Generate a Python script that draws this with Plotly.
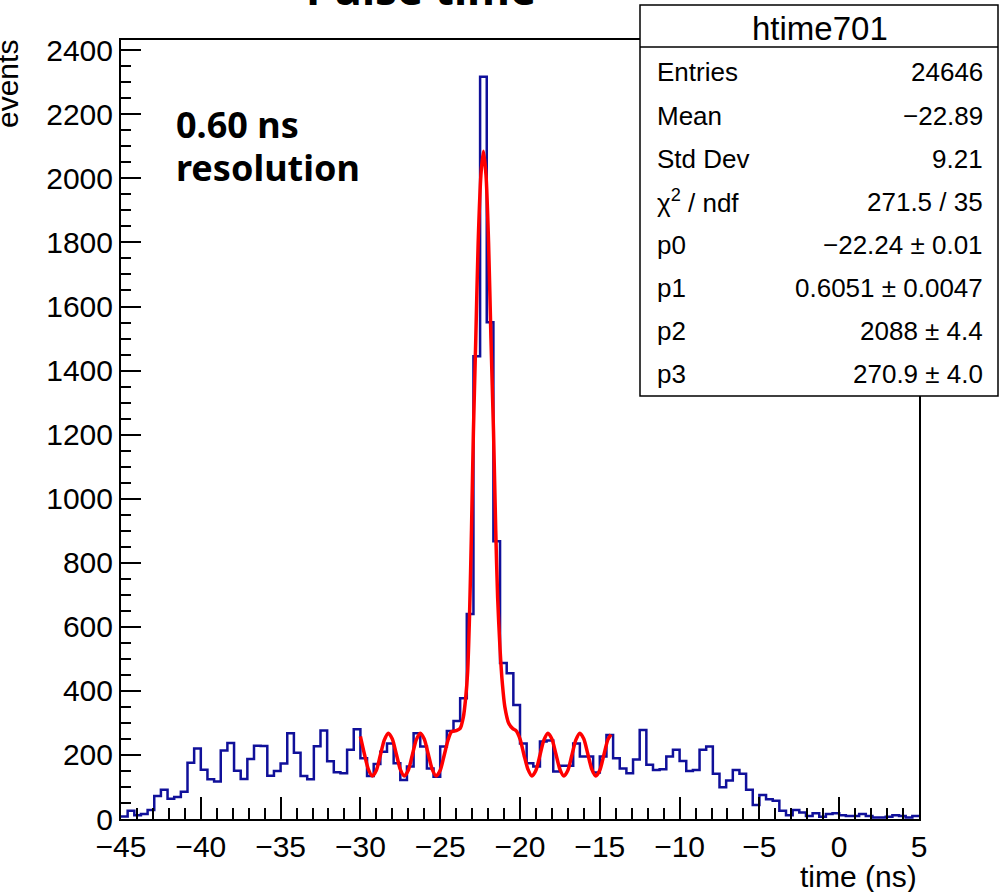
import numpy as np
import plotly.graph_objects as go

# ---------------- data ----------------
hist_xmin = -45.0
hist_xmax = 5.0
counts = [
    8, 26, 12, 16, 28, 72, 91, 63, 69, 85,
    176, 220, 154, 124, 117, 214, 237, 151, 125, 187,
    229, 228, 135, 150, 173, 268, 207, 134, 124, 227,
    276, 180, 146, 143, 216, 280, 190, 134, 172, 210,
    236, 174, 122, 164, 268, 226, 158, 132, 226, 275,
    306, 377, 640, 1445, 2317, 1551, 867, 487, 455, 356,
    236, 174, 164, 242, 245, 148, 166, 166, 236, 195,
    195, 145, 195, 262, 190, 158, 143, 186, 278, 169,
    153, 155, 195, 216, 181, 150, 153, 216, 226, 141,
    99, 120, 153, 141, 91, 44, 75, 62, 57, 26,
    12, 28, 20, 9, 18, 7, 16, 18, 12, 9,
    9, 16, 9, 5, 5, 7, 12, 9, 5, 9,
]

fit_x = [-30.0, -29.75, -29.5, -29.25, -29.0, -28.75, -28.5, -28.25, -28.0, -27.75,
         -27.5, -27.25, -27.0, -26.75, -26.5, -26.25, -26.0, -25.75, -25.5, -25.25,
         -25.0, -24.75, -24.5, -24.3, -24.0, -23.75, -23.55, -23.4, -23.28, -23.16,
         -23.04, -22.92, -22.77, -22.62, -22.45, -22.29, -22.13, -21.97, -21.82, -21.66,
         -21.52, -21.4, -21.25, -21.1, -20.95, -20.7, -20.45, -20.25, -20.0, -19.75,
         -19.5, -19.25, -19.0, -18.75, -18.5, -18.25, -18.0, -17.75, -17.5, -17.25,
         -17.0, -16.75, -16.5, -16.25, -16.0, -15.75, -15.5, -15.25, -15.0, -14.75,
         -14.5, -14.3]
fit_y = [258, 203, 155, 134, 152, 199, 247, 268, 250, 203,
         155, 134, 152, 199, 247, 268, 250, 203, 155, 134,
         152, 199, 248, 272, 276, 283, 318, 380, 460, 640,
         900, 1210, 1500, 1800, 2010, 2085, 2010, 1800, 1500, 1210,
         900, 690, 530, 420, 350, 298, 282, 276, 250, 200,
         155, 134, 152, 199, 247, 268, 250, 203, 155, 134,
         152, 199, 247, 268, 250, 203, 155, 134, 152, 199,
         247, 264]

y_ticks = [0, 200, 400, 600, 800, 1000, 1200, 1400, 1600, 1800, 2000, 2200, 2400]
x_ticks = [-45, -40, -35, -30, -25, -20, -15, -10, -5, 0, 5]

stat_title = "htime701"
stat_labels = ["Entries", "Mean", "Std Dev", "χ<sup>2</sup> / ndf", "p0", "p1", "p2", "p3"]
stat_values = ["24646", "−22.89", "9.21", "271.5 / 35", "−22.24 ± 0.01",
               "0.6051 ± 0.0047", "2088 ± 4.4", "270.9 ± 4.0"]

# ---------------- layout geometry (pixels) ----------------
W, H = 1001, 892
L, R, T, B = 121, 919, 40, 819


def px(xp):
    return (xp - L) / (R - L)


def py(yp):
    return (B - yp) / (B - T)


edges = np.linspace(hist_xmin, hist_xmax, len(counts) + 1)
step_x = list(edges)
step_y = list(counts) + [counts[-1]]

fig = go.Figure()
fig.add_trace(go.Scatter(x=step_x, y=step_y, mode="lines",
                         line=dict(color="#10109a", width=2.5, shape="hv"),
                         hoverinfo="skip", showlegend=False))
fig.add_trace(go.Scatter(x=fit_x, y=fit_y, mode="lines",
                         line=dict(color="#ff0000", width=3.5, shape="spline", smoothing=0.7),
                         hoverinfo="skip", showlegend=False))

tickfont = dict(family="Liberation Sans, Arial, sans-serif", size=30, color="black")
fig.update_xaxes(range=[hist_xmin, hist_xmax], tickvals=x_ticks,
                 ticktext=[("−" + str(-v)) if v < 0 else str(v) for v in x_ticks],
                 showline=True, linecolor="black", linewidth=2, mirror=True,
                 ticks="inside", ticklen=22, tickwidth=1.6, tickcolor="black",
                 minor=dict(ticks="inside", ticklen=11, dtick=1, tickwidth=1.6, tickcolor="black"),
                 showgrid=False, zeroline=False, tickfont=tickfont)
fig.update_yaxes(range=[0, 2432], tickvals=y_ticks,
                 showline=True, linecolor="black", linewidth=2, mirror=True,
                 ticks="inside", ticklen=20, tickwidth=1.6, tickcolor="black",
                 minor=dict(ticks="inside", ticklen=10, dtick=50, tickwidth=1.6, tickcolor="black"),
                 showgrid=False, zeroline=False, tickfont=tickfont)

shapes = [
    dict(type="rect", xref="paper", yref="paper", x0=px(640), x1=px(998), y0=py(396), y1=py(5),
         fillcolor="white", line=dict(color="black", width=1.5), layer="above"),
    dict(type="line", xref="paper", yref="paper", x0=px(640), x1=px(998), y0=py(47), y1=py(47),
         line=dict(color="black", width=1.5), layer="above"),
]

annos = []
sfont = dict(family="Liberation Sans, Arial, sans-serif", size=26, color="black")
annos.append(dict(text=stat_title, xref="paper", yref="paper", x=px(820), y=py(29),
                  xanchor="center", yanchor="middle", showarrow=False,
                  font=dict(family="Liberation Sans, Arial, sans-serif", size=33, color="black")))
row_y = [72, 116, 159, 202, 245, 288, 331, 374]
for lab, val, ry in zip(stat_labels, stat_values, row_y):
    annos.append(dict(text=lab, xref="paper", yref="paper", x=px(655), y=py(ry),
                      xanchor="left", yanchor="middle", showarrow=False, font=sfont))
    annos.append(dict(text=val, xref="paper", yref="paper", x=px(985), y=py(ry),
                      xanchor="right", yanchor="middle", showarrow=False, font=sfont))

bold = dict(family="Noto Sans, Open Sans, sans-serif", size=36, color="black")
annos.append(dict(text="<b>0.60 ns</b>", xref="paper", yref="paper", x=px(174), y=py(124),
                  xanchor="left", yanchor="middle", showarrow=False, font=bold))
annos.append(dict(text="<b>resolution</b>", xref="paper", yref="paper", x=px(174), y=py(167),
                  xanchor="left", yanchor="middle", showarrow=False, font=bold))
annos.append(dict(text="<b>Pulse time</b>", xref="paper", yref="paper", x=px(421), y=py(-12),
                  xanchor="center", yanchor="middle", showarrow=False,
                  font=dict(family="Noto Sans, Open Sans, sans-serif", size=44, color="black")))
annos.append(dict(text="time (ns)", xref="paper", yref="paper", x=px(919), y=py(876),
                  xanchor="right", yanchor="middle", showarrow=False,
                  font=dict(family="Liberation Sans, Arial, sans-serif", size=30, color="black")))
annos.append(dict(text="events", xref="paper", yref="paper", x=px(8), y=py(84),
                  xanchor="center", yanchor="middle", showarrow=False, textangle=-90,
                  font=dict(family="Liberation Sans, Arial, sans-serif", size=30, color="black")))

fig.update_layout(width=W, height=H, margin=dict(l=L, r=W - R, t=T, b=H - B, pad=0),
                  plot_bgcolor="white", paper_bgcolor="white",
                  shapes=shapes, annotations=annos, showlegend=False)

fig.write_html("out.html")
